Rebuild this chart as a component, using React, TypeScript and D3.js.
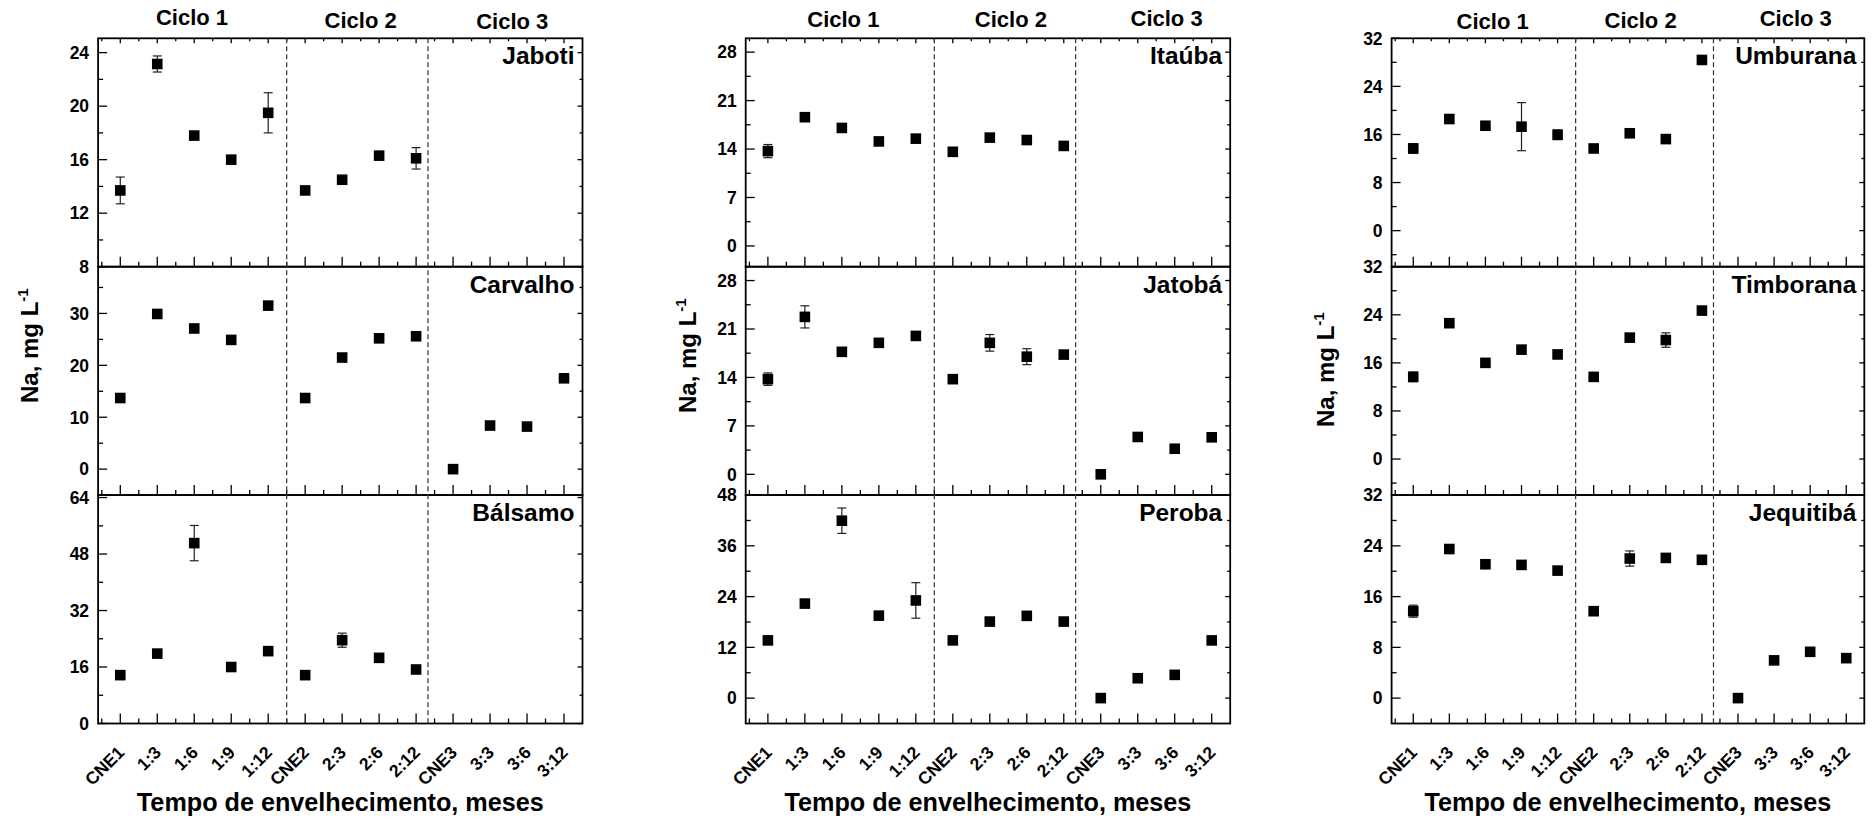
import React from "react";
import * as d3 from "d3";

// Sampling points along the ageing time axis
const categories = ["CNE1", "1:3", "1:6", "1:9", "1:12", "CNE2", "2:3", "2:6", "2:12", "CNE3", "3:3", "3:6", "3:12"];
const cycleLabels = ["Ciclo 1", "Ciclo 2", "Ciclo 3"];
const xTitle = "Tempo de envelhecimento, meses";

// Na (mg/L) per wood; null = not sampled
const jaboti = [13.7, 23.15, 17.8, 16.0, 19.5, 13.7, 14.5, 16.3, 16.1, null, null, null, null];
const jabotiErr = [1.0, 0.6, 0, 0, 1.5, 0, 0, 0, 0.8, 0, 0, 0, 0];
const carvalho = [13.7, 29.9, 27.1, 24.9, 31.5, 13.7, 21.5, 25.2, 25.6, 0, 8.4, 8.2, 17.5];
const carvalhoErr = [0.6, 0, 0, 0, 0, 0, 0, 0, 0, 0, 0, 0, 0];
const balsamo = [13.7, 19.8, 51.1, 16.0, 20.5, 13.7, 23.6, 18.6, 15.3, null, null, null, null];
const balsamoErr = [0, 0, 5.0, 0, 0, 0, 2.0, 0, 0, 0, 0, 0, 0];

const itauba = [13.7, 18.6, 17.05, 15.1, 15.5, 13.6, 15.65, 15.3, 14.45, null, null, null, null];
const itaubaErr = [0.95, 0, 0, 0, 0, 0, 0, 0, 0, 0, 0, 0, 0];
const jatoba = [13.75, 22.75, 17.7, 19.0, 20.0, 13.75, 19.0, 17.0, 17.3, 0, 5.4, 3.7, 5.35];
const jatobaErr = [0.9, 1.6, 0, 0, 0, 0, 1.2, 1.15, 0, 0, 0, 0, 0];
const peroba = [13.65, 22.35, 41.95, 19.5, 23.1, 13.65, 18.1, 19.45, 18.1, 0, 4.7, 5.5, 13.65];
const perobaErr = [0, 0, 3.0, 0, 4.2, 0, 0, 0, 0, 0, 0, 0, 0];

const umburana = [13.67, 18.57, 17.45, 17.3, 15.95, 13.67, 16.2, 15.23, 28.4, null, null, null, null];
const umburanaErr = [0.8, 0, 0, 4.0, 0.8, 0, 0, 0, 0, 0, 0, 0, 0];
const timborana = [13.67, 22.6, 16.0, 18.2, 17.4, 13.67, 20.2, 19.8, 24.7, null, null, null, null];
const timboranaErr = [0.8, 0, 0, 0.6, 0, 0, 0, 1.2, 0, 0, 0, 0, 0];
const jequitiba = [13.7, 23.5, 21.1, 21.0, 20.1, 13.7, 22.0, 22.1, 21.8, 0, 5.95, 7.3, 6.3];
const jequitibaErr = [0.95, 0, 0, 0, 0.6, 0, 1.2, 0, 0, 0, 0, 0, 0];

// Y axis ranges and labelled ticks
const jabotiTicks = [8, 12, 16, 20, 24];
const carvalhoTicks = [0, 10, 20, 30];
const balsamoTicks = [0, 16, 32, 48, 64];
const itaubaTicks = [0, 7, 14, 21, 28];
const jatobaTicks = [0, 7, 14, 21, 28];
const perobaTicks = [0, 12, 24, 36, 48];
const umburanaTicks = [0, 8, 16, 24, 32];
const timboranaTicks = [0, 8, 16, 24, 32];
const jequitibaTicks = [0, 8, 16, 24, 32];

type Panel = {
  name: string;
  values: (number | null)[];
  errors: number[];
  domain: [number, number];
  ticks: number[];
};

type Column = {
  left: number;
  right: number;
  panels: Panel[];
  headers: { idx: number; y: number }[];
  yTitle: { x: number; y: number };
};

const columns: Column[] = [
  {
    left: 98.1,
    right: 582.5,
    panels: [
      { name: "Jaboti", values: jaboti, errors: jabotiErr, domain: [8, 25.07], ticks: jabotiTicks },
      { name: "Carvalho", values: carvalho, errors: carvalhoErr, domain: [-5, 39], ticks: carvalhoTicks },
      { name: "Bálsamo", values: balsamo, errors: balsamoErr, domain: [0, 64.7], ticks: balsamoTicks },
    ],
    headers: [{ idx: 2.94, y: 25 }, { idx: 7.5, y: 27.7 }, { idx: 11.6, y: 29 }],
    yTitle: { x: 37.5, y: 403 },
  },
  {
    left: 745.7,
    right: 1230.2,
    panels: [
      { name: "Itaúba", values: itauba, errors: itaubaErr, domain: [-3, 30], ticks: itaubaTicks },
      { name: "Jatobá", values: jatoba, errors: jatobaErr, domain: [-3, 30], ticks: jatobaTicks },
      { name: "Peroba", values: peroba, errors: perobaErr, domain: [-6, 48], ticks: perobaTicks },
    ],
    headers: [{ idx: 3.04, y: 27.3 }, { idx: 7.57, y: 26.7 }, { idx: 11.78, y: 26 }],
    yTitle: { x: 696, y: 413 },
  },
  {
    left: 1391.6,
    right: 1864.3,
    panels: [
      { name: "Umburana", values: umburana, errors: umburanaErr, domain: [-6, 32], ticks: umburanaTicks },
      { name: "Timborana", values: timborana, errors: timboranaErr, domain: [-6, 32], ticks: timboranaTicks },
      { name: "Jequitibá", values: jequitiba, errors: jequitibaErr, domain: [-4, 32], ticks: jequitibaTicks },
    ],
    headers: [{ idx: 3.2, y: 29.3 }, { idx: 7.3, y: 28.3 }, { idx: 11.6, y: 26 }],
    yTitle: { x: 1334, y: 427 },
  },
];

const rowTops = [38.3, 266.7, 495.1];
const rowH = 228.4;
const cycleBreaks = [5.5, 9.32];
const xDomain: [number, number] = [0.4, 13.5];
const FONT = "'Liberation Sans', Arial, Helvetica, sans-serif";
const MARK = 10.6;
const CAP = 9;

function minorTicks(ticks: number[], domain: [number, number]) {
  const step = ticks[1] - ticks[0];
  const out: number[] = [];
  const lo = Math.min(...ticks) - step;
  const hi = Math.max(...ticks) + step;
  for (let v = lo + step / 2; v < hi; v += step) {
    if (v > domain[0] + 1e-6 && v < domain[1] - 1e-6) out.push(v);
  }
  return out;
}

function PanelView({ col, panel, row }: { col: Column; panel: Panel; row: number }) {
  const top = rowTops[row];
  const bottom = top + rowH;
  const x = d3.scaleLinear().domain(xDomain).range([col.left, col.right]);
  const y = d3.scaleLinear().domain(panel.domain).range([bottom, top]);
  const majorX = d3.range(1, categories.length + 1);
  const minorX = d3.range(0.5, 13.6, 1).filter((v) => v > xDomain[0] && v < xDomain[1]);
  const majorY = panel.ticks.filter((v) => v >= panel.domain[0] - 1e-6 && v <= panel.domain[1] + 1e-6);
  const minorY = minorTicks(panel.ticks, panel.domain);
  const tickStroke = { stroke: "#000", strokeWidth: 1.3 };

  return (
    <g>
      {/* bottom axis ticks (inward) */}
      {majorX.map((v) => (
        <line key={"bx" + v} x1={x(v)} x2={x(v)} y1={bottom} y2={bottom - 10} {...tickStroke} />
      ))}
      {minorX.map((v) => (
        <line key={"bm" + v} x1={x(v)} x2={x(v)} y1={bottom} y2={bottom - 5} {...tickStroke} />
      ))}
      {/* top axis ticks on the upper panel only */}
      {row === 0 &&
        majorX.map((v) => (
          <line key={"tx" + v} x1={x(v)} x2={x(v)} y1={top} y2={top + 5} {...tickStroke} />
        ))}
      {row === 0 &&
        minorX.map((v) => (
          <line key={"tm" + v} x1={x(v)} x2={x(v)} y1={top} y2={top + 3} {...tickStroke} />
        ))}
      {/* left and right ticks */}
      {majorY.map((v) => (
        <g key={"ly" + v}>
          <line x1={col.left} x2={col.left + 9} y1={y(v)} y2={y(v)} {...tickStroke} />
          <line x1={col.right} x2={col.right - 5} y1={y(v)} y2={y(v)} {...tickStroke} />
          <text
            x={col.left - 9}
            y={y(v)}
            dy="0.36em"
            textAnchor="end"
            fontFamily={FONT}
            fontWeight="bold"
            fontSize={17.5}
          >
            {v}
          </text>
        </g>
      ))}
      {minorY.map((v) => (
        <g key={"lm" + v}>
          <line x1={col.left} x2={col.left + 5} y1={y(v)} y2={y(v)} {...tickStroke} />
          <line x1={col.right} x2={col.right - 3} y1={y(v)} y2={y(v)} {...tickStroke} />
        </g>
      ))}
      {/* error bars */}
      {panel.values.map((v, i) => {
        const e = panel.errors[i];
        if (v == null || !e) return null;
        const cx = x(i + 1);
        return (
          <g key={"e" + i} stroke="#222" strokeWidth={1.2}>
            <line x1={cx} x2={cx} y1={y(v - e)} y2={y(v + e)} />
            <line x1={cx - CAP / 2} x2={cx + CAP / 2} y1={y(v - e)} y2={y(v - e)} />
            <line x1={cx - CAP / 2} x2={cx + CAP / 2} y1={y(v + e)} y2={y(v + e)} />
          </g>
        );
      })}
      {/* markers */}
      {panel.values.map((v, i) =>
        v == null ? null : (
          <rect
            key={"m" + i}
            x={x(i + 1) - MARK / 2}
            y={y(v) - MARK / 2}
            width={MARK}
            height={MARK}
            fill="#000"
          />
        )
      )}
      {/* frame */}
      <rect
        x={col.left}
        y={top}
        width={col.right - col.left}
        height={rowH}
        fill="none"
        stroke="#000"
        strokeWidth={1.8}
      />
      <text
        x={col.right - 8}
        y={top + 26}
        textAnchor="end"
        fontFamily={FONT}
        fontWeight="bold"
        fontSize={24.5}
      >
        {panel.name}
      </text>
    </g>
  );
}

function ColumnView({ col }: { col: Column }) {
  const x = d3.scaleLinear().domain(xDomain).range([col.left, col.right]);
  const bottom = rowTops[2] + rowH;
  return (
    <g>
      {col.panels.map((p, r) => (
        <PanelView key={p.name} col={col} panel={p} row={r} />
      ))}
      {cycleBreaks.map((b) => (
        <line
          key={"d" + b}
          x1={x(b)}
          x2={x(b)}
          y1={rowTops[0]}
          y2={bottom}
          stroke="#333"
          strokeWidth={1.2}
          strokeDasharray="5,3"
        />
      ))}
      {col.headers.map((h, i) => (
        <text
          key={"h" + i}
          x={x(h.idx)}
          y={h.y}
          textAnchor="middle"
          fontFamily={FONT}
          fontWeight="bold"
          fontSize={22}
        >
          {cycleLabels[i]}
        </text>
      ))}
      {categories.map((c, i) => {
        const tx = x(i + 1) + 5;
        const ty = bottom + 30;
        return (
          <text
            key={"c" + c}
            x={tx}
            y={ty}
            transform={`rotate(-45 ${tx} ${ty})`}
            textAnchor="end"
            fontFamily={FONT}
            fontWeight="bold"
            fontSize={17.5}
          >
            {c}
          </text>
        );
      })}
      <text
        x={(col.left + col.right) / 2}
        y={811}
        textAnchor="middle"
        fontFamily={FONT}
        fontWeight="bold"
        fontSize={25.2}
      >
        {xTitle}
      </text>
      <text
        x={col.yTitle.x}
        y={col.yTitle.y}
        transform={`rotate(-90 ${col.yTitle.x} ${col.yTitle.y})`}
        fontFamily={FONT}
        fontWeight="bold"
        fontSize={24}
      >
        Na, mg L
        <tspan fontSize={15} dy={-10}>
          -1
        </tspan>
      </text>
    </g>
  );
}

export default function App() {
  return (
    <svg
      width={1876}
      height={821}
      viewBox="0 0 1876 821"
      style={{ position: "absolute", left: 0, top: 0, background: "#fff" }}
    >
      <rect x={0} y={0} width={1876} height={821} fill="#fff" />
      {columns.map((c, i) => (
        <ColumnView key={i} col={c} />
      ))}
    </svg>
  );
}
